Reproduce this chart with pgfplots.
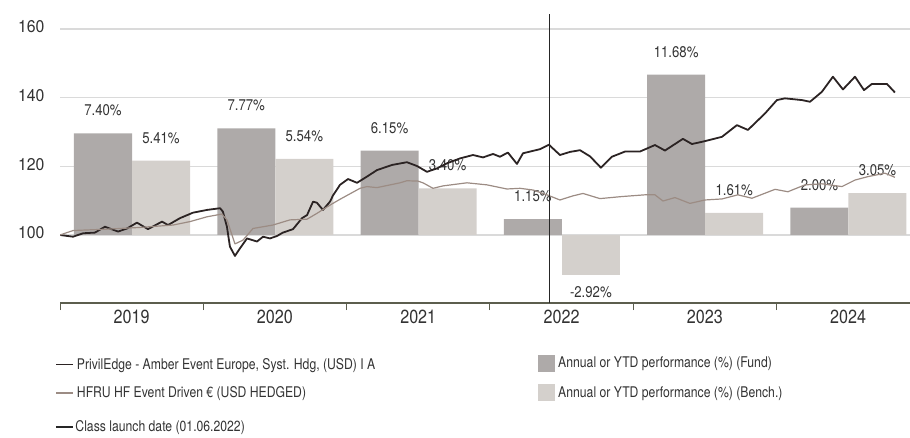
\documentclass[border=0pt]{standalone}
\usepackage{fontspec}
\setmainfont{TeX Gyre Heros}[FakeStretch=0.85]
\newfontfamily\tickfont{TeX Gyre Heros}[FakeStretch=0.93]
\newfontfamily\legfont{TeX Gyre Heros}[FakeStretch=0.83]
\usepackage{pgfplots}
\pgfplotsset{compat=1.18}
\definecolor{fundline}{HTML}{2B2323}
\definecolor{benchline}{HTML}{9C8C84}
\definecolor{fundbar}{HTML}{AEAAA9}
\definecolor{benchbar}{HTML}{D4D0CC}
\definecolor{gridc}{HTML}{DADADA}
\definecolor{axisc}{HTML}{5C5E4E}
\definecolor{txt}{HTML}{333333}

\pgfplotstableread{
t v
2019.000 100.0
2019.091 99.5
2019.161 100.5
2019.244 100.7
2019.314 102.4
2019.405 101.0
2019.468 101.9
2019.537 103.6
2019.614 101.7
2019.712 103.9
2019.754 102.9
2019.837 104.9
2019.928 106.5
2020.026 107.3
2020.117 107.8
2020.137 106.8
2020.165 102.4
2020.186 96.6
2020.221 93.9
2020.256 96.1
2020.305 99.0
2020.375 98.1
2020.417 99.5
2020.465 99.0
2020.514 99.7
2020.556 100.7
2020.626 101.7
2020.689 104.9
2020.724 105.8
2020.766 109.7
2020.793 109.4
2020.835 107.3
2020.884 109.7
2020.905 111.5
2020.954 114.6
2021.010 116.3
2021.073 115.2
2021.142 117.0
2021.212 118.9
2021.317 120.4
2021.421 121.2
2021.491 120.1
2021.561 118.4
2021.631 119.4
2021.701 120.9
2021.791 122.3
2021.882 123.3
2021.952 122.6
2022.022 123.6
2022.070 122.8
2022.126 124.0
2022.189 120.7
2022.231 123.8
2022.350 125.0
2022.412 126.3
2022.489 123.3
2022.559 124.2
2022.629 124.7
2022.699 122.9
2022.775 119.6
2022.852 122.8
2022.943 124.3
2023.047 124.3
2023.152 126.2
2023.222 124.6
2023.347 128.0
2023.410 126.5
2023.487 127.2
2023.620 128.6
2023.724 132.0
2023.801 130.6
2023.920 135.4
2024.003 139.3
2024.059 139.8
2024.178 139.3
2024.234 138.8
2024.317 141.7
2024.394 146.1
2024.464 142.4
2024.548 146.1
2024.611 142.2
2024.666 144.0
2024.771 144.0
2024.827 141.5
}\fundtable

\pgfplotstableread{
t v
2019.000 100.0
2019.091 101.3
2019.328 101.7
2019.558 102.2
2019.789 102.9
2019.907 103.9
2020.026 105.3
2020.130 106.1
2020.165 104.4
2020.221 97.4
2020.277 98.5
2020.347 101.9
2020.486 102.9
2020.605 104.4
2020.724 104.6
2020.793 106.3
2020.884 108.7
2020.954 110.4
2021.094 113.6
2021.142 114.1
2021.212 113.8
2021.373 115.2
2021.421 115.8
2021.498 115.7
2021.533 115.2
2021.603 113.6
2021.673 114.3
2021.840 115.2
2021.980 114.6
2022.119 113.4
2022.210 113.6
2022.301 113.1
2022.398 111.7
2022.489 110.2
2022.580 111.4
2022.650 112.1
2022.768 110.6
2022.922 111.2
2023.082 111.7
2023.152 111.7
2023.208 109.9
2023.292 110.9
2023.396 109.2
2023.501 110.2
2023.620 110.5
2023.731 111.7
2023.829 110.7
2023.990 113.3
2024.080 112.6
2024.199 114.6
2024.317 114.9
2024.457 114.1
2024.548 116.0
2024.638 117.0
2024.757 118.0
2024.827 116.8
}\benchtable

\begin{document}
\begin{tikzpicture}
\path[use as bounding box] (0,0) rectangle (910pt,437pt);

% ---------- bars axis (grid, x axis, y labels, bars) ----------
\begin{axis}[
  at={(60pt,134pt)}, anchor=south west,
  scale only axis, width=850pt, height=303pt,
  xmin=2019, xmax=2024.932,
  ymin=-4.9525, ymax=17.1125,
  axis x line*=bottom, axis y line*=left,
  x axis line style={axisc, line width=1.3pt, -},
  y axis line style={draw=none},
  tick align=outside,
  xtick={2019,2020,2021,2022,2023,2024}, xticklabels={},
  major x tick style={axisc, line width=1pt},
  major tick length=7pt,
  extra x ticks={2019.5,2020.5,2021.5,2022.5,2023.5,2024.5},
  extra x tick labels={2019,2020,2021,2022,2023,2024},
  extra x tick style={major tick length=0pt, grid=none,
     tick label style={font=\fontsize{19}{22}\selectfont, text=txt, yshift=-3pt}},
  ytick={0,5,10,15}, yticklabels={100,120,140,160},
  ymajorgrids, grid style={gridc, line width=1.3pt},
  major y tick style={draw=none},
  yticklabel style={font=\tickfont\fontsize{17}{20}\selectfont, text=txt, xshift=-5pt, yshift=2pt},
  /pgf/number format/assume math mode=true,
  clip=false,
  legend style={at={(axis description cs:0.5624,-0.168)}, anchor=north west,
     draw=none, fill=none, inner sep=0pt, row sep=11pt,
     font=\legfont\fontsize{14.7}{17}\selectfont, text=txt,
     nodes={inner sep=3pt}},
  legend cell align=left,
]
\addplot[ybar, bar width=0.405, bar shift=0pt, fill=fundbar, draw=none,
  point meta=explicit symbolic, nodes near coords,
  every node near coord/.append style={font=\fontsize{15.5}{18}\selectfont, text=txt, inner sep=0pt, anchor=south, yshift=17pt},
  legend image code/.code={\fill[fundbar] (0pt,-8.5pt) rectangle (17pt,8.5pt);}]
coordinates {
(2019.300,7.40) [7.40\%]
(2020.300,7.77) [7.77\%]
(2021.300,6.15) [6.15\%]
(2022.300,1.15) [1.15\%]
(2023.300,11.68) [11.68\%]
(2024.300,2.00) [2.00\%]
};
\addlegendentry{Annual or YTD performance (\%) (Fund)}
\addplot[ybar, bar width=0.405, bar shift=0pt, fill=benchbar, draw=none,
  point meta=explicit symbolic, nodes near coords,
  every node near coord/.append style={font=\fontsize{15.5}{18}\selectfont, text=txt, inner sep=0pt, anchor=south, yshift=17pt},
  legend image code/.code={\fill[benchbar] (0pt,-8.5pt) rectangle (17pt,8.5pt);}]
coordinates {
(2019.705,5.41) [5.41\%]
(2020.705,5.54) [5.54\%]
(2021.705,3.40) [3.40\%]
(2023.705,1.61) [1.61\%]
(2024.705,3.05) [3.05\%]
};
\addlegendentry{Annual or YTD performance (\%) (Bench.)}
\addplot[ybar, bar width=0.405, bar shift=0pt, fill=benchbar, draw=none,
  point meta=explicit symbolic, nodes near coords,
  every node near coord/.style={font=\fontsize{15.5}{18}\selectfont, text=txt, inner sep=0pt, anchor=north, yshift=-11.5pt},
  forget plot]
coordinates {
(2022.705,-2.92) [-2.92\%]
};
\end{axis}

% ---------- lines axis ----------
\begin{axis}[
  at={(60pt,134pt)}, anchor=south west,
  scale only axis, width=850pt, height=303pt,
  xmin=2019, xmax=2024.932,
  ymin=80.19, ymax=168.45,
  hide axis,
  legend style={at={(axis description cs:-0.006,-0.1716)}, anchor=north west,
     draw=none, fill=none, inner sep=0pt, row sep=10pt,
     font=\legfont\fontsize{14.7}{17}\selectfont, text=txt,
     nodes={inner sep=3pt}},
  legend cell align=left,
]
\addplot[fundline, line width=1.8pt, line join=round] table[x=t,y=v] {\fundtable};
\addlegendentry{PrivilEdge - Amber Event Europe, Syst. Hdg, (USD) I A}
\addplot[benchline, line width=1.2pt, line join=round] table[x=t,y=v] {\benchtable};
\addlegendentry{HFRU HF Event Driven € (USD HEDGED)}
\end{axis}

% ---------- launch date axis ----------
\begin{axis}[
  at={(60pt,134pt)}, anchor=south west,
  scale only axis, width=850pt, height=303pt,
  xmin=2019, xmax=2024.932,
  ymin=80.19, ymax=168.45,
  hide axis,
  legend style={at={(axis description cs:-0.006,-0.381)}, anchor=north west,
     draw=none, fill=none, inner sep=0pt,
     font=\legfont\fontsize{14.7}{17}\selectfont, text=txt,
     nodes={inner sep=2pt}},
  legend cell align=left,
]
\addplot[black!85, line width=1.3pt] coordinates {(2022.417,80.19) (2022.417,164.4)};
\addlegendentry{Class launch date (01.06.2022)}
\end{axis}
\end{tikzpicture}
\end{document}
